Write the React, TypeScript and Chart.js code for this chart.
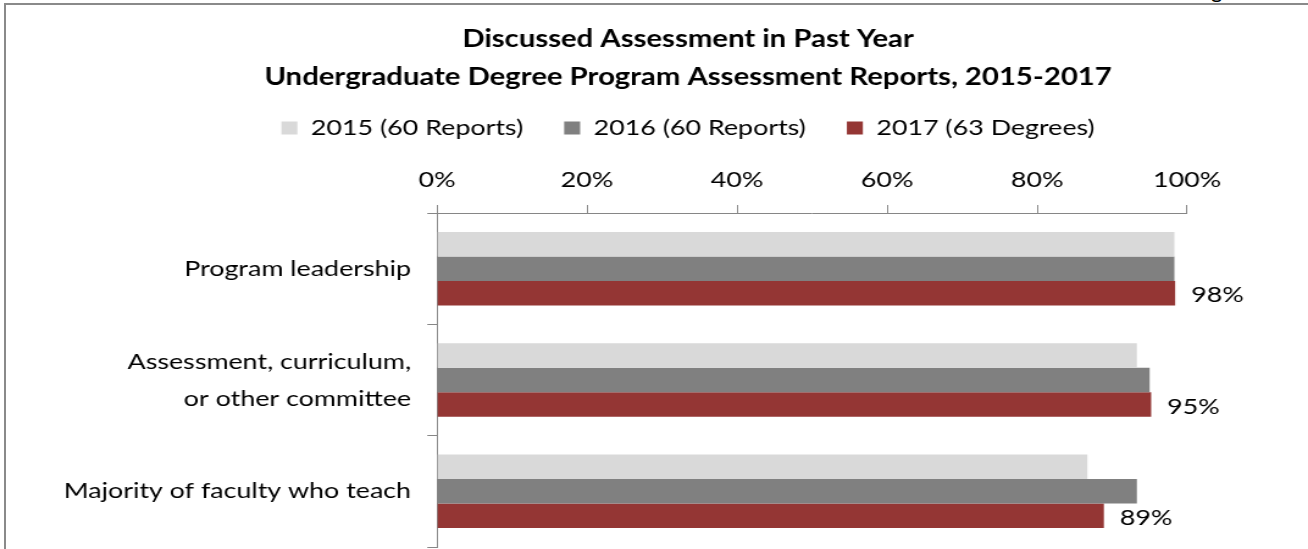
import React, { useEffect, useRef } from "react";
import { Chart, registerables } from "chart.js";

Chart.register(...registerables);

// ---- data ----
const categories: string[][] = [
  ["Program leadership"],
  ["Assessment, curriculum,", "or other committee"],
  ["Majority of faculty who teach"],
];
const seriesNames = ["2015 (60 Reports)", "2016 (60 Reports)", "2017 (63 Degrees)"];
const values2015 = [98.3, 93.3, 86.7];
const values2016 = [98.3, 95.0, 93.3];
const values2017 = [98.4, 95.2, 88.9];
const labels2017 = ["98%", "95%", "89%"];
const xTickValues = [0, 20, 40, 60, 80, 100];
const titleLines = [
  "Discussed Assessment in Past Year",
  "Undergraduate Degree Program Assessment Reports, 2015-2017",
];

// ---- styling ----
const S = 1.22; // horizontal stretch of the picture
const FULL_W = 1308;
const FULL_H = 549;
const W = Math.round(FULL_W / S);
const FONT = "Lato, 'Noto Sans', sans-serif";
const FS = 22;
const AXIS = "#868686";
const colors = ["#D9D9D9", "#808080", "#943634"];

const dataLabelPlugin = {
  id: "dataLabels2017",
  afterDatasetsDraw(chart: any) {
    const meta = chart.getDatasetMeta(2);
    const ctx = chart.ctx;
    ctx.save();
    ctx.font = `${FS}px ${FONT}`;
    ctx.fillStyle = "#000";
    ctx.textAlign = "left";
    ctx.textBaseline = "middle";
    meta.data.forEach((el: any, i: number) => {
      ctx.fillText(labels2017[i], el.x + 16 / S, el.y + 2);
    });
    ctx.restore();
  },
};

export default function App() {
  const ref = useRef<HTMLCanvasElement | null>(null);
  useEffect(() => {
    if (!ref.current) return;
    const left = 437 / S;
    const right = 1187 / S;
    const span = (2 * 688) / S; // title/legend centred near 688
    const legendPad = 41 / S;
    const legendH = FS + legendPad + 10;
    const legendTop = 128 - legendPad - FS / 2;
    const titleTopPad = 20;
    const titleBottomPad = legendTop - titleTopPad - 2 * 38;
    const xAxisH = 213 - legendTop - legendH;
    const chart = new Chart(ref.current, {
      type: "bar",
      data: {
        labels: categories as any,
        datasets: [values2015, values2016, values2017].map((v, i) => ({
          label: seriesNames[i],
          data: v,
          backgroundColor: colors[i],
          borderWidth: 0,
          categoryPercentage: 0.66,
          barPercentage: 1.0,
        })),
      },
      options: {
        indexAxis: "y",
        responsive: false,
        animation: false,
        devicePixelRatio: 1,
        layout: {
          padding: { left: 0, right: W - span, top: 0, bottom: 2 },
        },
        scales: {
          x: {
            position: "top",
            min: 0,
            max: 100,
            afterBuildTicks: (scale: any) => {
              scale.ticks = xTickValues.map((v) => ({ value: v }));
            },
            ticks: {
              callback: (v: any) => v + "%",
              font: { family: FONT, size: FS },
              color: "#000",
              padding: 11.8,
              maxRotation: 0,
            },
            grid: { drawOnChartArea: false, tickLength: 8, color: AXIS },
            border: { display: true, color: AXIS },
            afterFit: (scale: any) => {
              scale.height = xAxisH;
              scale.paddingLeft = 0;
              scale.paddingRight = W - right;
            },
          },
          y: {
            ticks: {
              font: { family: FONT, size: FS, lineHeight: 37 / FS },
              color: "#000",
              padding: 26 / S - 8,
              autoSkip: false,
            },
            grid: { drawOnChartArea: false, tickLength: 8, color: AXIS, offset: true },
            border: { display: true, color: AXIS },
            afterFit: (scale: any) => {
              scale.width = left;
              scale.paddingTop = 0;
              scale.paddingBottom = 0;
            },
          },
        },
        plugins: {
          title: {
            display: true,
            text: titleLines,
            color: "#000",
            font: { family: FONT, size: 24, weight: "bold", lineHeight: 38 / 24 },
            padding: { top: titleTopPad, bottom: titleBottomPad },
          },
          legend: {
            display: true,
            position: "top",
            labels: {
              color: "#000",
              font: { family: FONT, size: FS },
              boxWidth: 16 / S,
              boxHeight: 13,
              padding: legendPad,
            },
          },
          tooltip: { enabled: false },
        },
      } as any,
      plugins: [dataLabelPlugin],
    });
    return () => chart.destroy();
  }, []);

  return (
    <div
      style={{
        position: "fixed",
        left: 0,
        top: 0,
        width: FULL_W,
        height: FULL_H,
        overflow: "hidden",
        background: "#fff",
      }}
    >
      <div
        style={{
          position: "absolute",
          left: 4,
          top: 3,
          width: 1500,
          height: 800,
          border: "2px solid #8a8a8a",
        }}
      />
      <div
        style={{
          position: "absolute",
          left: 1211,
          top: -21,
          fontFamily: FONT,
          fontSize: 22,
          lineHeight: "22px",
          color: "#000",
        }}
      >
        g
      </div>
      <canvas
        ref={ref}
        width={W}
        height={FULL_H}
        style={{ position: "absolute", left: 0, top: 0, width: FULL_W, height: FULL_H }}
      />
    </div>
  );
}
